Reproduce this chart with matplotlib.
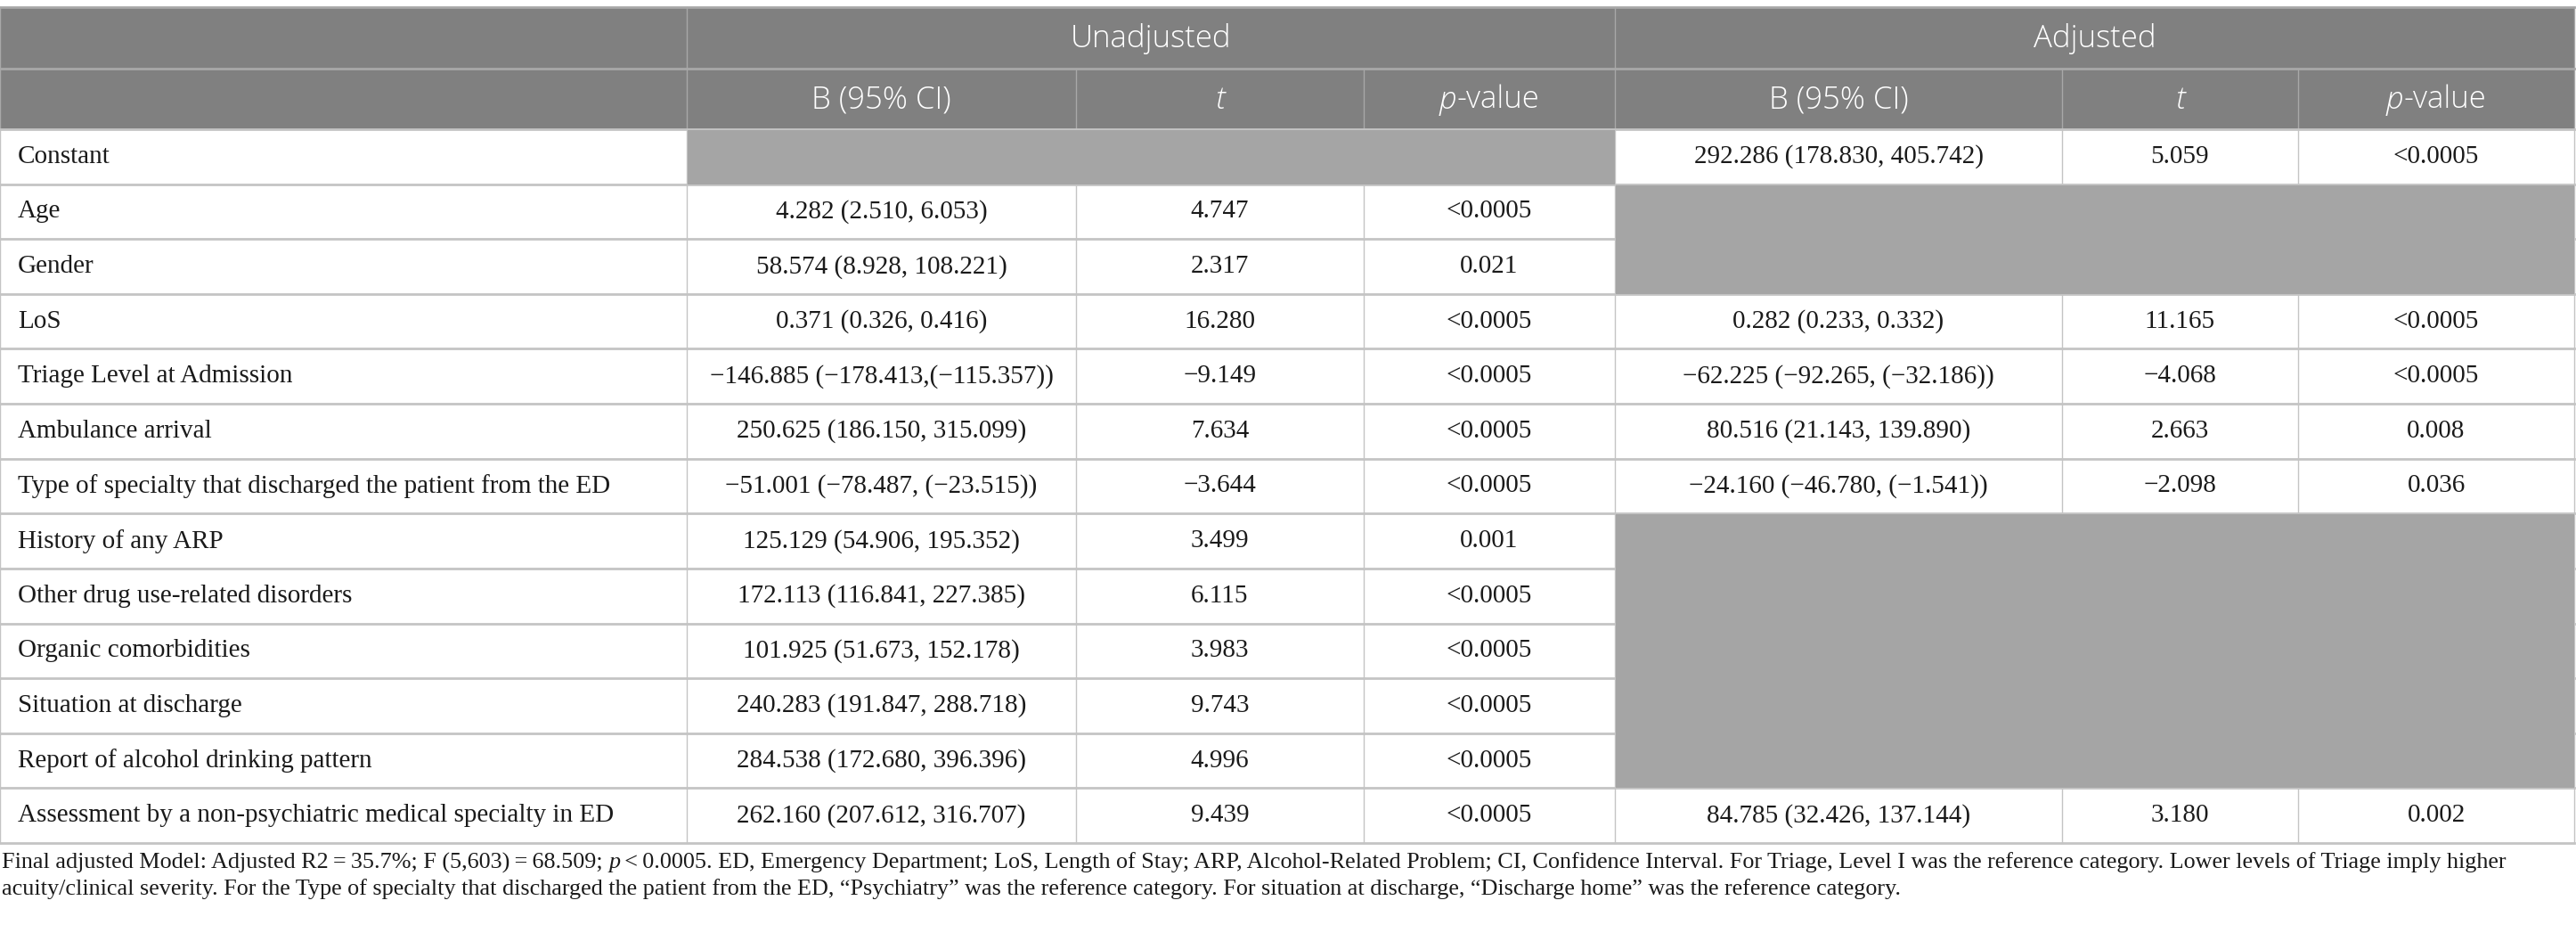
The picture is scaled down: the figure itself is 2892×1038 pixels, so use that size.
import matplotlib
matplotlib.use("Agg")
import matplotlib.pyplot as plt
from matplotlib.patches import Rectangle

# Table content
row_labels = [
    "Constant", "Age", "Gender", "LoS", "Triage Level at Admission",
    "Ambulance arrival",
    "Type of specialty that discharged the patient from the ED",
    "History of any ARP", "Other drug use-related disorders",
    "Organic comorbidities", "Situation at discharge",
    "Report of alcohol drinking pattern",
    "Assessment by a non-psychiatric medical specialty in ED",
]
unadj_b = [None, "4.282 (2.510, 6.053)", "58.574 (8.928, 108.221)",
           "0.371 (0.326, 0.416)", "\u2212146.885 (\u2212178.413,(\u2212115.357))",
           "250.625 (186.150, 315.099)", "\u221251.001 (\u221278.487, (\u221223.515))",
           "125.129 (54.906, 195.352)", "172.113 (116.841, 227.385)",
           "101.925 (51.673, 152.178)", "240.283 (191.847, 288.718)",
           "284.538 (172.680, 396.396)", "262.160 (207.612, 316.707)"]
unadj_t = [None, "4.747", "2.317", "16.280", "\u22129.149", "7.634", "\u22123.644",
           "3.499", "6.115", "3.983", "9.743", "4.996", "9.439"]
unadj_p = [None, "<0.0005", "0.021", "<0.0005", "<0.0005", "<0.0005", "<0.0005",
           "0.001", "<0.0005", "<0.0005", "<0.0005", "<0.0005", "<0.0005"]
adj_b = ["292.286 (178.830, 405.742)", None, None, "0.282 (0.233, 0.332)",
         "\u221262.225 (\u221292.265, (\u221232.186))", "80.516 (21.143, 139.890)",
         "\u221224.160 (\u221246.780, (\u22121.541))", None, None, None, None, None,
         "84.785 (32.426, 137.144)"]
adj_t = ["5.059", None, None, "11.165", "\u22124.068", "2.663", "\u22122.098",
         None, None, None, None, None, "3.180"]
adj_p = ["<0.0005", None, None, "<0.0005", "<0.0005", "0.008", "0.036",
         None, None, None, None, None, "0.002"]
groups = ["Unadjusted", "Adjusted"]
sub_headers = [[("B (95% CI)", "normal")], [("t", "italic")],
               [("p", "italic"), ("-value", "normal")]]

footer_1 = [("Final adjusted Model: Adjusted R2\u2009=\u200935.7%; F (5,603)\u2009=\u200968.509; ", "normal"),
            ("p", "italic"),
            ("\u2009<\u20090.0005. ED, Emergency Department; LoS, Length of Stay; ARP, Alcohol-Related Problem; "
             "CI, Confidence Interval. For Triage, Level I was the reference category. Lower levels of Triage imply higher",
             "normal")]
footer_2 = [("acuity/clinical severity. For the Type of specialty that discharged the patient from the ED, "
             "\u201cPsychiatry\u201d was the reference category. For situation at discharge, "
             "\u201cDischarge home\u201d was the reference category.", "normal")]

# geometry (pixels)
W, H = 2892, 1038
col_x = [0, 771, 1208, 1531, 1813, 2315, 2580, 2890]
y_top, y_h1, y_h2 = 8, 77, 145
row_h = (946 - y_h2) / len(row_labels)

HEAD = "#808080"
EMPTY = "#a5a5a5"
LINE = "#c4c4c4"
HEAD_LINE = "#a8a8a8"
SANS = "Open Sans"
SERIF = "Liberation Serif"

fig = plt.figure(figsize=(W / 100, H / 100), dpi=100)
ax = fig.add_axes([0, 0, 1, 1])
ax.set_xlim(0, W)
ax.set_ylim(H, 0)
ax.axis("off")
renderer = fig.canvas.get_renderer()


def draw_runs(x, y, runs, ha="left", **kw):
    texts = [ax.text(0, y, s, style=st, va="center", ha="left", **kw) for s, st in runs]
    widths = [t.get_window_extent(renderer).width for t in texts]
    start = x - sum(widths) / 2 if ha == "center" else x
    for t, w in zip(texts, widths):
        t.set_x(start)
        start += w


# header background
ax.add_patch(Rectangle((0, y_top), col_x[-1], y_h2 - y_top, color=HEAD, lw=0))
ax.plot([0, col_x[-1]], [y_top, y_top], color=HEAD_LINE, lw=2)
ax.plot([0, col_x[-1]], [y_h1, y_h1], color=HEAD_LINE, lw=2)
for x in [0, col_x[1], col_x[4], col_x[-1]]:
    ax.plot([x, x], [y_top, y_h1], color=HEAD_LINE, lw=1)
for x in col_x:
    ax.plot([x, x], [y_h1, y_h2], color=HEAD_LINE, lw=1)

head_kw = dict(color="white", fontsize=25, family=SANS, fontweight="light")
for g, name in enumerate(groups):
    cx = (col_x[1 + 3 * g] + col_x[4 + 3 * g]) / 2
    draw_runs(cx, (y_top + y_h1) / 2 + 1, [(name, "normal")], ha="center", **head_kw)
    for j, runs in enumerate(sub_headers):
        c = 1 + 3 * g + j
        draw_runs((col_x[c] + col_x[c + 1]) / 2, (y_h1 + y_h2) / 2 + 1, runs, ha="center", **head_kw)

# body grid
body_bottom = y_h2 + row_h * len(row_labels)
for i in range(len(row_labels) + 1):
    y = y_h2 + i * row_h
    ax.plot([0, col_x[-1]], [y, y], color=LINE, lw=2)
for x in col_x:
    ax.plot([x, x], [y_h2, body_bottom], color=LINE, lw=1)

body_kw = dict(color="#1a1a1a", fontsize=21, family=SERIF)
columns = [unadj_b, unadj_t, unadj_p, adj_b, adj_t, adj_p]
for i, label in enumerate(row_labels):
    yc = y_h2 + (i + 0.5) * row_h
    ax.text(20, yc, label, ha="left", va="center", **body_kw)
    for j, col in enumerate(columns):
        if col[i] is not None:
            ax.text((col_x[j + 1] + col_x[j + 2]) / 2, yc, col[i], ha="center", va="center", **body_kw)

# gray blocks for empty cells, merged per group
for g in range(2):
    col = columns[3 * g]
    i = 0
    while i < len(row_labels):
        if col[i] is None:
            k = i
            while k < len(row_labels) and col[k] is None:
                k += 1
            x0, x1 = col_x[1 + 3 * g], col_x[4 + 3 * g]
            ax.add_patch(Rectangle((x0 + 1, y_h2 + i * row_h + 1), x1 - x0 - 1, (k - i) * row_h - 1,
                                   color=EMPTY, lw=0, zorder=3))
            i = k
        else:
            i += 1

# footnote
foot_kw = dict(color="#1a1a1a", fontsize=18.8, family=SERIF)
draw_runs(2, 968, footer_1, **foot_kw)
draw_runs(2, 998, footer_2, **foot_kw)

fig.savefig("out.png", dpi=100)
